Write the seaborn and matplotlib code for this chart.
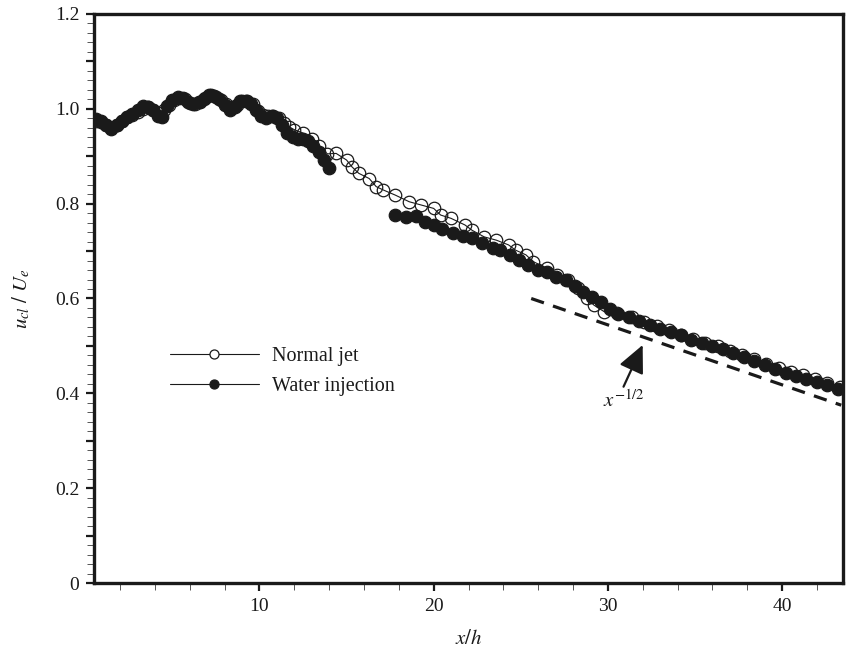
import numpy as np
import pandas as pd
import matplotlib
matplotlib.use("Agg")
import matplotlib.pyplot as plt
import seaborn as sns
from matplotlib.lines import Line2D

# ---------------- data ----------------
normal_x = [0.6, 0.9, 1.2, 1.5, 1.8, 2.1, 2.4, 2.7, 3.0, 3.3, 3.6, 3.9, 4.2, 4.5,
            4.8, 5.1, 5.4, 5.7, 6.0, 6.3, 6.6, 6.9, 7.2, 7.5, 7.8, 8.1, 8.4, 8.7,
            9.0, 9.3, 9.6, 9.9, 10.2, 10.5, 10.8, 11.1, 11.4, 11.7, 12.0, 12.5,
            13.0, 13.4, 13.9,
            14.4, 15.0, 15.3, 15.7, 16.3, 16.7, 17.1, 17.8, 18.6, 19.3, 20.0, 20.4,
            21.0, 21.8, 22.2, 22.9, 23.6, 24.3, 24.7, 25.3, 25.7, 26.5, 27.1, 27.7,
            28.3, 28.8, 29.2, 29.8, 30.5, 31.4, 32.1, 32.8, 33.5, 34.2, 34.9, 35.6,
            36.3, 37.0, 37.7, 38.4, 39.1, 39.8, 40.5, 41.2, 41.9, 42.6, 43.3]
normal_y = [0.975, 0.972, 0.965, 0.960, 0.966, 0.975, 0.982, 0.988, 0.994, 1.000,
            1.003, 0.998, 0.992, 0.998, 1.008, 1.018, 1.022, 1.020, 1.012, 1.011,
            1.015, 1.022, 1.030, 1.026, 1.018, 1.010, 1.004, 1.008, 1.016, 1.016,
            1.010, 0.996, 0.988, 0.984, 0.984, 0.980, 0.970, 0.962, 0.956, 0.949,
            0.936, 0.922, 0.905,
            0.906, 0.892, 0.878, 0.864, 0.853, 0.836, 0.829, 0.818, 0.804, 0.797,
            0.790, 0.776, 0.769, 0.755, 0.744, 0.730, 0.723, 0.713, 0.702, 0.692,
            0.678, 0.664, 0.650, 0.640, 0.622, 0.602, 0.586, 0.572, 0.569, 0.561,
            0.551, 0.542, 0.534, 0.524, 0.515, 0.507, 0.499, 0.490, 0.480, 0.472,
            0.462, 0.454, 0.445, 0.438, 0.430, 0.422, 0.414]

water_x = [0.6, 0.9, 1.2, 1.5, 1.8, 2.1, 2.4, 2.7, 3.0, 3.3, 3.6, 3.9, 4.2, 4.4,
           4.7, 5.0, 5.3, 5.6, 5.9, 6.2, 6.5, 6.8, 7.1, 7.4, 7.7, 8.0, 8.3, 8.6,
           8.9, 9.2, 9.5, 9.8, 10.1, 10.4, 10.7, 11.0, 11.3, 11.6, 11.9, 12.2,
           12.5, 12.8, 13.1, 13.4, 13.7, 14.0, np.nan,
           17.8, 18.4, 19.0, 19.5, 20.0, 20.5, 21.1, 21.7, 22.2, 22.8, 23.4, 23.8,
           24.4, 24.9, 25.4, 26.0, 26.5, 27.0, 27.6, 28.1, 28.6, 29.1, 29.6, 30.1,
           30.6, 31.2, 31.8, 32.4, 33.0, 33.6, 34.2, 34.8, 35.4, 36.0, 36.6, 37.2,
           37.8, 38.4, 39.0, 39.6, 40.2, 40.8, 41.4, 42.0, 42.6, 43.2]
water_y = [0.978, 0.975, 0.965, 0.958, 0.965, 0.975, 0.983, 0.990, 0.997, 1.005,
           1.004, 0.998, 0.985, 0.982, 1.005, 1.018, 1.024, 1.022, 1.014, 1.010,
           1.014, 1.020, 1.030, 1.027, 1.020, 1.008, 0.998, 1.004, 1.016, 1.017,
           1.010, 0.998, 0.985, 0.980, 0.985, 0.980, 0.965, 0.950, 0.940, 0.936,
           0.937, 0.932, 0.922, 0.908, 0.892, 0.875, np.nan,
           0.776, 0.771, 0.773, 0.762, 0.755, 0.746, 0.738, 0.731, 0.727, 0.717,
           0.707, 0.702, 0.692, 0.682, 0.670, 0.660, 0.655, 0.646, 0.638, 0.626,
           0.614, 0.604, 0.592, 0.578, 0.568, 0.560, 0.552, 0.544, 0.536, 0.530,
           0.522, 0.513, 0.507, 0.500, 0.493, 0.485, 0.476, 0.468, 0.460, 0.451,
           0.443, 0.437, 0.430, 0.424, 0.418, 0.410]

ref_x = [25.6, 43.4]
ref_y = [0.600, 0.375]
ref_label = r"$x^{-1/2}$"
arrow_tip = (32.0, 0.502)
arrow_tail = (30.9, 0.414)
label_pos = (29.7, 0.371)

legend_labels = ["Normal jet", "Water injection"]
x_major = [10, 20, 30, 40]
x_minor = [2, 4, 6, 8, 12, 14, 16, 18, 22, 24, 26, 28, 32, 34, 36, 38, 42]
y_major = [0, 0.1, 0.2, 0.3, 0.4, 0.5, 0.6, 0.7, 0.8, 0.9, 1.0, 1.1, 1.2]
y_labels = ["0", "", "0.2", "", "0.4", "", "0.6", "", "0.8", "", "1.0", "", "1.2"]

# ---------------- style ----------------
sns.set_theme(style="white")
plt.rcParams["font.family"] = ["Liberation Serif", "DejaVu Serif"]
plt.rcParams["mathtext.fontset"] = "stix"
plt.rcParams["text.color"] = "k"
plt.rcParams["axes.labelcolor"] = "k"
plt.rcParams["xtick.color"] = "k"
plt.rcParams["ytick.color"] = "k"

fig = plt.figure(figsize=(8.46, 6.56), dpi=100)
ax = fig.add_axes([94 / 846, 1 - 583 / 656, 749 / 846, 569 / 656])

normal_df = pd.DataFrame({"x": normal_x, "y": normal_y})
wx = np.array(water_x, dtype=float)
water_df = pd.DataFrame({"x": wx, "y": water_y, "seg": np.cumsum(np.isnan(wx))})
water_df = water_df.dropna()

ms = 9.0
sns.lineplot(data=normal_df, x="x", y="y", ax=ax, estimator=None, sort=False,
             color="k", lw=0.8, marker="o", markersize=ms,
             markerfacecolor="none", markeredgecolor="k", markeredgewidth=0.9)
sns.lineplot(data=water_df, x="x", y="y", units="seg", ax=ax, estimator=None,
             sort=False, color="k", lw=0.8, marker="o", markersize=ms,
             markerfacecolor="k", markeredgecolor="k", markeredgewidth=0.9)
sns.lineplot(x=ref_x, y=ref_y, ax=ax, color="k", lw=2.3,
             linestyle=(0, (4.2, 3.0)))

ax.text(label_pos[0], label_pos[1], ref_label, fontsize=15, ha="left",
        va="baseline", color="k")
ax.annotate("", xy=arrow_tip, xytext=arrow_tail,
            arrowprops=dict(arrowstyle="-|>,head_length=0.85,head_width=0.4",
                            mutation_scale=20, color="k", lw=1.6,
                            shrinkA=0, shrinkB=0))

ax.set_xlim(0.5, 43.5)
ax.set_ylim(0, 1.2)
ax.set_xticks(x_major)
ax.set_xticklabels([str(v) for v in x_major])
ax.set_xticks(x_minor, minor=True)
ax.set_yticks(y_major)
ax.set_yticklabels(y_labels)
ax.set_yticks(np.round(np.arange(0, 1.2001, 0.02), 2), minor=True)

ax.tick_params(which="major", direction="out", length=5.5, width=1.6,
               labelsize=14, pad=5, color="k", labelcolor="#1a1a1a",
               bottom=True, left=True)
ax.tick_params(which="minor", direction="out", length=5, width=0.7,
               color="#555555", bottom=True, left=True)
for s in ax.spines.values():
    s.set_linewidth(2.4)
    s.set_color("k")

ax.set_xlabel(r"$x/h$", fontsize=15, color="k")
ax.set_ylabel(r"$u_{cl}\ /\ U_e$", fontsize=15, color="k")
ax.xaxis.set_label_coords(0.5, -0.082)
ax.yaxis.set_label_coords(-0.083, 0.5)

handles = [
    Line2D([], [], color="k", lw=0.8, marker="o", ms=6.5, mfc="white", mec="k", mew=0.9),
    Line2D([], [], color="k", lw=0.8, marker="o", ms=6.5, mfc="k", mec="k", mew=0.9),
]
leg = ax.legend(handles, legend_labels, loc="upper left",
                bbox_to_anchor=(0.1015, 0.415), frameon=False, fontsize=14.5,
                handlelength=4.4, handletextpad=0.65, borderpad=0,
                borderaxespad=0, labelspacing=0.55)
for t in leg.get_texts():
    t.set_color("k")

fig.savefig("out.png", dpi=100)
